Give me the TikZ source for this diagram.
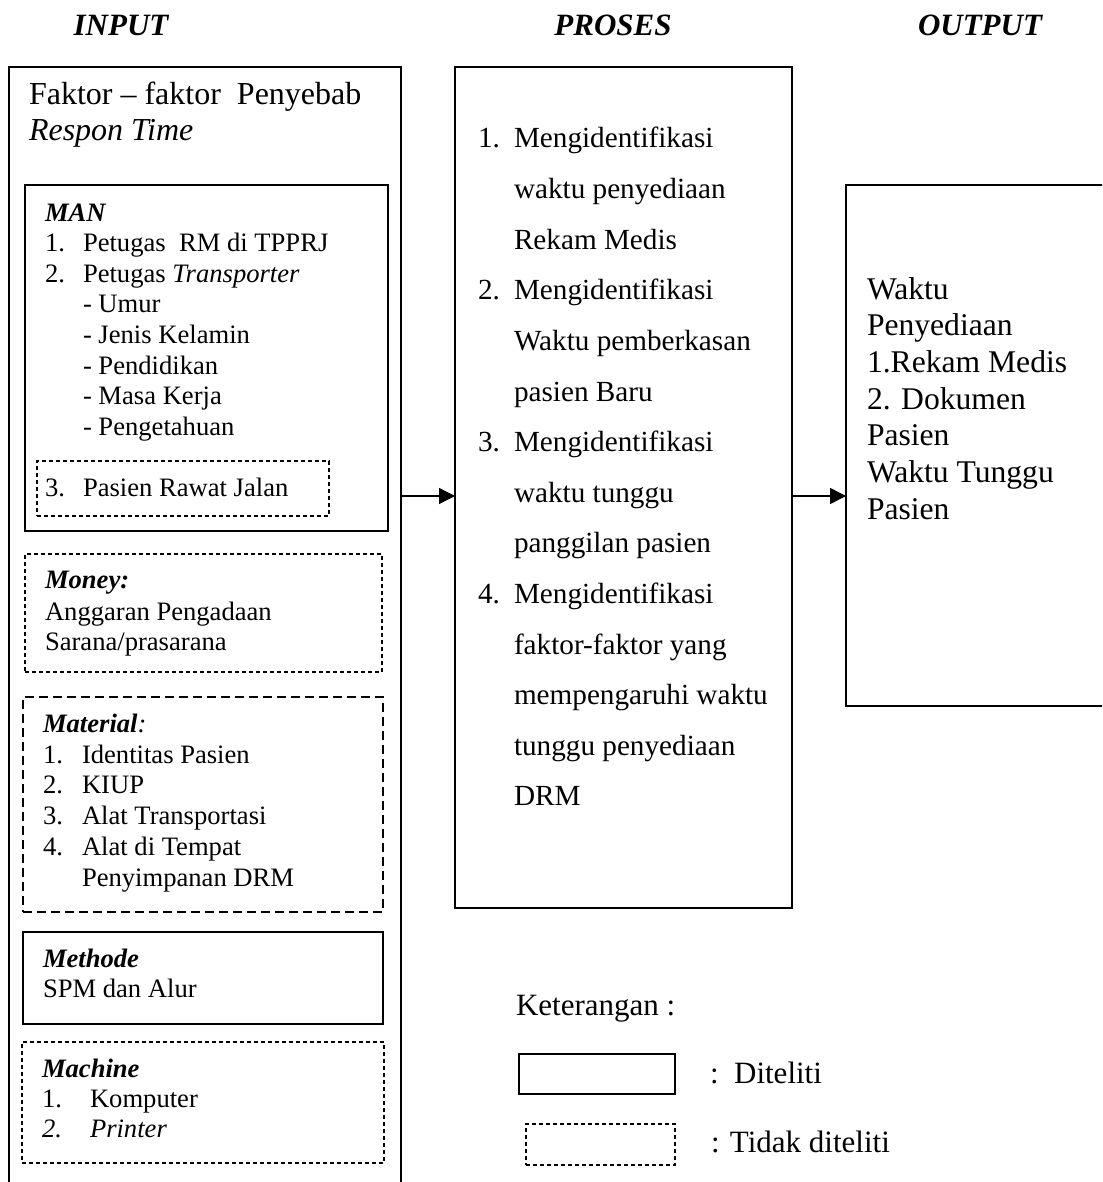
\documentclass[tikz,border=0pt]{standalone}
\usepackage{fontspec}
\setmainfont{Liberation Serif}
\usetikzlibrary{arrows.meta,fit}
\begin{document}
\begin{tikzpicture}[x=0.5pt,y=-0.5pt,
  every node/.style={inner sep=0pt,outer sep=0pt},
  solidbox/.style={draw,line width=0.65pt},
  outerbox/.style={draw,line width=0.8pt},
  dashbox/.style={draw,line width=0.6pt,dash pattern=on 2pt off 1.5pt},
  bigdash/.style={draw,line width=0.9pt,dash pattern=on 4.5pt off 2.5pt},
  ttl/.style={anchor=base,font=\fontsize{15.5}{18}\selectfont\bfseries\itshape},
  big/.style={anchor=base west,font=\fontsize{16}{19}\selectfont},
  txt/.style={anchor=base west,font=\fontsize{13.3}{15}\selectfont},
  ptxt/.style={anchor=base west,font=\fontsize{14.6}{17}\selectfont},
  otxt/.style={anchor=base west,font=\fontsize{15.8}{18}\selectfont},
  ltxt/.style={anchor=base west,font=\fontsize{15.5}{18}\selectfont},
  arr/.style={line width=0.7pt,-{Triangle[length=8pt,width=8pt]}}]
\useasboundingbox (0,0) rectangle (1102,1182);
\clip (0,0) rectangle (1102,1182);
\fill[white] (0,0) rectangle (1102,1182);
% titles
\node[ttl] (tin) at (121,36) {INPUT};
\node[ttl] (tpr) at (613,36) {PROSES};
\node[ttl] (tout) at (980,36) {OUTPUT};
% main boxes
\node[outerbox,fit={(9,67) (401,1200)}] (inbox) {};
\node[solidbox,fit={(455,67) (792,908)}] (proses) {};
\node[solidbox,fit={(846,185) (1115,706)}] (outbox) {};
\coordinate (arY) at (0,496);
\draw[arr] (inbox.east |- arY) -- (proses.west |- arY);
\draw[arr] (proses.east |- arY) -- (outbox.west |- arY);
% input header
\node[big] (fak) at (29,105) {Faktor -- faktor\ \ Penyebab};
\node[big] (resp) at (29,141) {\itshape Respon Time};
% MAN
\node[solidbox,fit={(25,185) (388,531)}] (man) {};
\node[dashbox,fit={(37,461) (329,516)}] (pasbox) {};
\node[txt] (manh) at (45,221) {\bfseries\itshape MAN};
\node[txt] (m1n) at (45,251) {1.};
\node[txt] (m1) at (83,251) {Petugas\ \ RM di TPPRJ};
\node[txt] (m2n) at (45,282) {2.};
\node[txt] (m2) at (83,282) {Petugas \textit{Transporter}};
\node[txt] (m2a) at (83,312) {- Umur};
\node[txt] (m2b) at (83,343) {- Jenis Kelamin};
\node[txt] (m2c) at (83,374) {- Pendidikan};
\node[txt] (m2d) at (83,404) {- Masa Kerja};
\node[txt] (m2e) at (83,435) {- Pengetahuan};
\node[txt] (m3n) at (45,496) {3.};
\node[txt] (m3) at (83,496) {Pasien Rawat Jalan};
% Money
\node[dashbox,fit={(25,554) (382,672)}] (money) {};
\node[txt] (moh) at (45,588) {\bfseries\itshape Money:};
\node[txt] (mo1) at (45,620) {Anggaran Pengadaan};
\node[txt] (mo2) at (45,650) {Sarana/prasarana};
% Material
\node[bigdash,fit={(23,697) (383,912)}] (material) {};
\node[txt] (mah) at (43,732) {\itshape\textbf{Material}:};
\node[txt] (ma1n) at (43,763) {1.};
\node[txt] (ma1) at (82,763) {Identitas Pasien};
\node[txt] (ma2n) at (43,793) {2.};
\node[txt] (ma2) at (82,793) {KIUP};
\node[txt] (ma3n) at (43,824) {3.};
\node[txt] (ma3) at (82,824) {Alat Transportasi};
\node[txt] (ma4n) at (43,855) {4.};
\node[txt] (ma4) at (82,855) {Alat di Tempat};
\node[txt] (ma4b) at (82,886) {Penyimpanan DRM};
% Methode
\node[solidbox,fit={(23,932) (383,1024)}] (methode) {};
\node[txt] (meh) at (43,967) {\bfseries\itshape Methode};
\node[txt] (me1) at (43,997) {SPM dan Alur};
% Machine
\node[dashbox,fit={(22,1042) (384,1163)}] (machine) {};
\node[txt] (mch) at (42,1077) {\bfseries\itshape Machine};
\node[txt] (mc1n) at (42,1107) {1.};
\node[txt] (mc1) at (90,1107) {Komputer};
\node[txt] (mc2n) at (42,1137) {\itshape 2.};
\node[txt] (mc2) at (90,1137) {\itshape Printer};
% Proses text
\foreach \n/\k in {1./0,2./3,3./6,4./9}
  \node[ptxt] (pn\k) at (478,148+50.6*\k) {\n};
\foreach \t [count=\i from 0] in {Mengidentifikasi,waktu penyediaan,Rekam Medis,Mengidentifikasi,Waktu pemberkasan,pasien Baru,Mengidentifikasi,waktu tunggu,panggilan pasien,Mengidentifikasi,faktor-faktor yang,mempengaruhi waktu,tunggu penyediaan,DRM}
  \node[ptxt] (pt\i) at (514,148+50.6*\i) {\t};
% Output text
\foreach \t [count=\i from 0] in {Waktu,Penyediaan,1.Rekam Medis,2. Dokumen,Pasien,Waktu Tunggu,Pasien}
  \node[otxt] (ot\i) at (867,299+36.7*\i) {\t};
% legend
\node[ltxt] (ket) at (516,1015) {Keterangan :};
\node[solidbox,fit={(519,1054) (675,1094)}] (legs) {};
\node[dashbox,fit={(526,1124) (675,1165)}] (legd) {};
\node[ltxt] (legst) at (710,1083) {:\ \ Diteliti};
\node[ltxt] (legdt) at (711,1152) {: Tidak diteliti};
\end{tikzpicture}
\end{document}
